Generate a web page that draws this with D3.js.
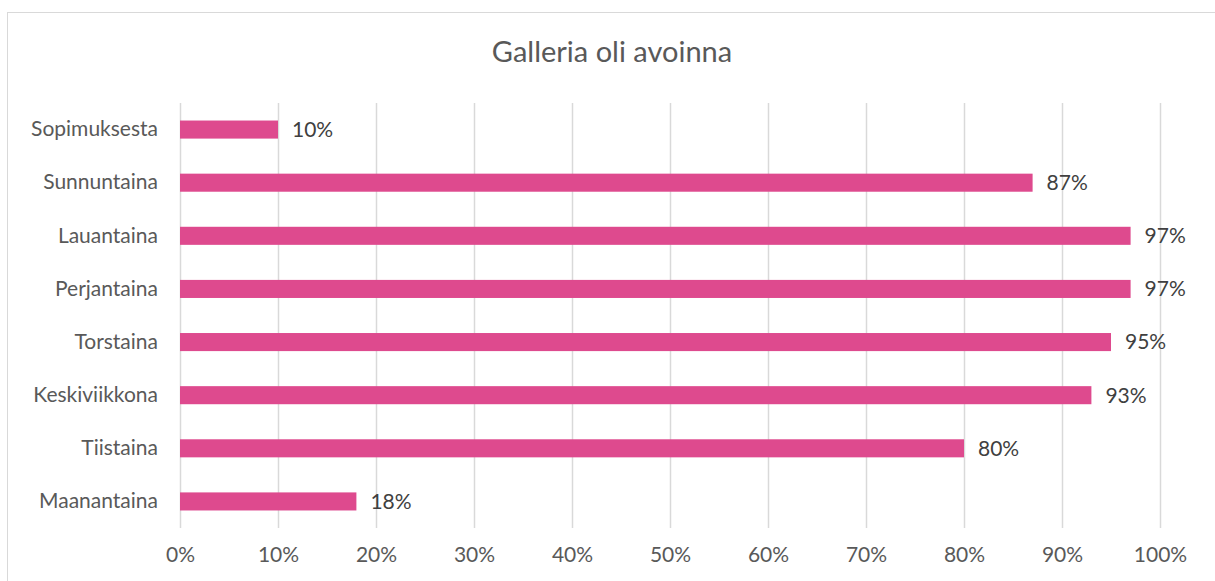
<!DOCTYPE html>
<html>
<head>
<meta charset="utf-8">
<script src="https://cdn.jsdelivr.net/npm/d3@7"></script>
<style>
  body { margin: 0; background: #fff; }
  text { font-family: Lato, "Open Sans", sans-serif; }
</style>
</head>
<body>
<div id="chart"></div>
<script>
var width = 1215;
var height = 581;
var margin = { top: 103, bottom: 53, left: 180, right: 55 };

// data, top row first
var categories = ["Sopimuksesta", "Sunnuntaina", "Lauantaina", "Perjantaina",
  "Torstaina", "Keskiviikkona", "Tiistaina", "Maanantaina"];
var values = [10, 87, 97, 97, 95, 93, 80, 18];
var tickValues = [0, 10, 20, 30, 40, 50, 60, 70, 80, 90, 100];
var title = "Galleria oli avoinna";

var barColor = "#DE4A8E";
var gridColor = "#D9D9D9";

var svg = d3.select("#chart")
  .append("svg")
  .attr("width", width)
  .attr("height", height);

// chart frame
svg.append("rect")
  .attr("x", 7.5)
  .attr("y", 12.5)
  .attr("width", width + 20)
  .attr("height", height + 20)
  .attr("fill", "#fff")
  .attr("stroke", gridColor)
  .attr("stroke-width", 1);

svg.append("text")
  .attr("x", 612)
  .attr("y", 62)
  .attr("text-anchor", "middle")
  .attr("fill", "#595959")
  .style("font-size", "29px")
  .text(title);

var xScale = d3.scaleLinear()
  .domain([0, 100])
  .range([margin.left, 1160]);

var yScale = d3.scaleBand()
  .domain(categories)
  .range([margin.top, height - margin.bottom])
  .paddingInner(0.66)
  .paddingOuter(0.33);

// grid lines
svg.append("g")
  .selectAll("line")
  .data(tickValues)
  .enter()
  .append("line")
  .attr("x1", function (d) { return xScale(d) + 0.5; })
  .attr("x2", function (d) { return xScale(d) + 0.5; })
  .attr("y1", margin.top)
  .attr("y2", height - margin.bottom)
  .attr("stroke", gridColor)
  .attr("stroke-width", 1.5);

// x axis labels
var xAxis = d3.axisBottom(xScale)
  .tickValues(tickValues)
  .tickSize(0)
  .tickPadding(19)
  .tickFormat(function (d) { return d + "%"; });

var gx = svg.append("g")
  .attr("transform", "translate(0," + (height - margin.bottom) + ")")
  .call(xAxis);
gx.select(".domain").remove();
gx.selectAll("text")
  .attr("fill", "#595959")
  .style("font-size", "21px");

// y axis labels
var yAxis = d3.axisLeft(yScale)
  .tickSize(0)
  .tickPadding(22);

var gy = svg.append("g")
  .attr("transform", "translate(" + margin.left + ",0)")
  .call(yAxis);
gy.select(".domain").remove();
gy.selectAll("text")
  .attr("fill", "#595959")
  .style("font-size", "21px");

// bars
svg.append("g")
  .selectAll("rect")
  .data(values)
  .enter()
  .append("rect")
  .attr("x", xScale(0))
  .attr("y", function (d, i) { return yScale(categories[i]); })
  .attr("width", function (d) { return xScale(d) - xScale(0); })
  .attr("height", yScale.bandwidth())
  .attr("fill", barColor);

// value labels
svg.append("g")
  .selectAll("text")
  .data(values)
  .enter()
  .append("text")
  .attr("x", function (d) { return xScale(d) + 14; })
  .attr("y", function (d, i) { return yScale(categories[i]) + yScale.bandwidth() / 2; })
  .attr("dy", "0.35em")
  .attr("fill", "#404040")
  .style("font-size", "21px")
  .text(function (d) { return d + "%"; });
</script>
</body>
</html>
